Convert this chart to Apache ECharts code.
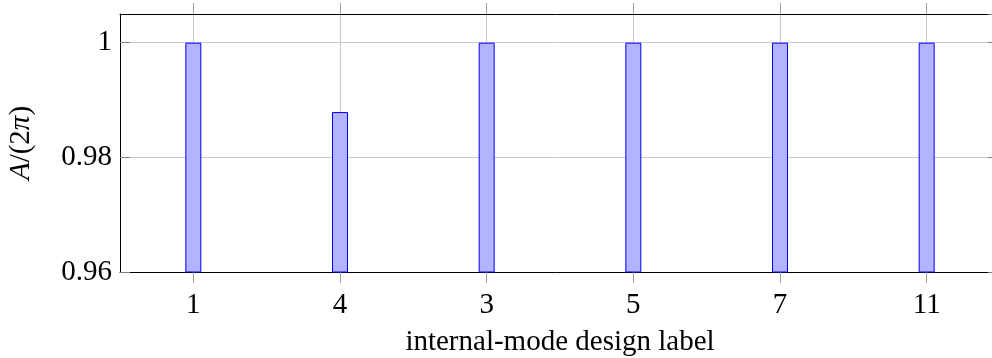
<!DOCTYPE html>
<html>
<head>
<meta charset="utf-8">
<script src="https://cdn.jsdelivr.net/npm/echarts@6/dist/echarts.min.js"></script>
<style>
html,body{margin:0;padding:0;background:#fff;}
#chart{width:992px;height:358px;}
</style>
</head>
<body>
<div id="chart"></div>
<script>
var categories = ['1', '4', '3', '5', '7', '11'];
var values = [1, 0.9879, 1, 1, 1, 1];
var yTickLabels = [0.96, 0.98, 1];
var yMin = 0.96, yMax = 1.005, yStep = 0.02;
var xTitle = 'internal-mode design label';

var FONT = '"Liberation Serif", "DejaVu Serif", serif';
var FS = 29;
var chart = echarts.init(document.getElementById('chart'), null, {renderer: 'canvas'});

function yFmt(v) {
  for (var i = 0; i < yTickLabels.length; i++) {
    if (Math.abs(v - yTickLabels[i]) < 1e-6) return String(yTickLabels[i]);
  }
  return '';
}

var option = {
  animation: false,
  backgroundColor: '#ffffff',
  grid: {left: 120, right: -8, top: 14, bottom: 86, containLabel: false, outerBoundsMode: 'none'},
  xAxis: [{
    type: 'category',
    data: categories,
    position: 'bottom',
    boundaryGap: true,
    axisLine: {show: true, lineStyle: {color: '#000', width: 1}},
    axisTick: {show: true, alignWithLabel: true, inside: false, length: 11, lineStyle: {color: '#a0a0a0', width: 1}},
    axisLabel: {show: true, color: '#000', fontFamily: FONT, fontSize: FS, margin: 19},
    splitLine: {show: true, alignWithLabel: true, lineStyle: {color: '#c8c8c8', width: 1}},
    name: xTitle,
    nameLocation: 'middle',
    nameGap: 56,
    nameTextStyle: {color: '#000', fontFamily: FONT, fontSize: FS}
  }, {
    type: 'category',
    data: categories,
    position: 'top',
    boundaryGap: true,
    axisLine: {show: true, lineStyle: {color: '#000', width: 1}},
    axisTick: {show: true, alignWithLabel: true, inside: false, length: 11, lineStyle: {color: '#a0a0a0', width: 1}},
    axisLabel: {show: false},
    splitLine: {show: false}
  }],
  yAxis: [{
    type: 'value',
    min: yMin,
    max: yMax,
    interval: yStep,
    position: 'left',
    axisLine: {show: true, lineStyle: {color: '#000', width: 1}},
    axisTick: {show: true, inside: true, length: 10, lineStyle: {color: '#808080', width: 1}},
    axisLabel: {show: true, color: '#000', fontFamily: FONT, fontSize: FS, margin: 8, formatter: yFmt, showMaxLabel: false},
    splitLine: {show: true, lineStyle: {color: '#c8c8c8', width: 1}},
    name: '{i|A}/(2{i|π})',
    nameLocation: 'middle',
    nameGap: 84,
    nameTextStyle: {
      color: '#000', fontFamily: FONT, fontSize: FS,
      rich: {i: {fontStyle: 'italic', fontFamily: FONT, fontSize: FS, color: '#000'}}
    }
  }, {
    type: 'value',
    min: yMin,
    max: yMax,
    interval: yStep,
    position: 'right',
    axisLine: {show: true, lineStyle: {color: '#000', width: 1}},
    axisTick: {show: true, inside: true, length: 12, lineStyle: {color: '#808080', width: 1}},
    axisLabel: {show: false},
    splitLine: {show: false}
  }],
  series: [{
    type: 'bar',
    xAxisIndex: 0,
    yAxisIndex: 0,
    data: values,
    barWidth: 16,
    itemStyle: {color: '#b3b3ff', borderColor: '#0000ff', borderWidth: 1}
  }]
};
chart.setOption(option);
</script>
</body>
</html>
